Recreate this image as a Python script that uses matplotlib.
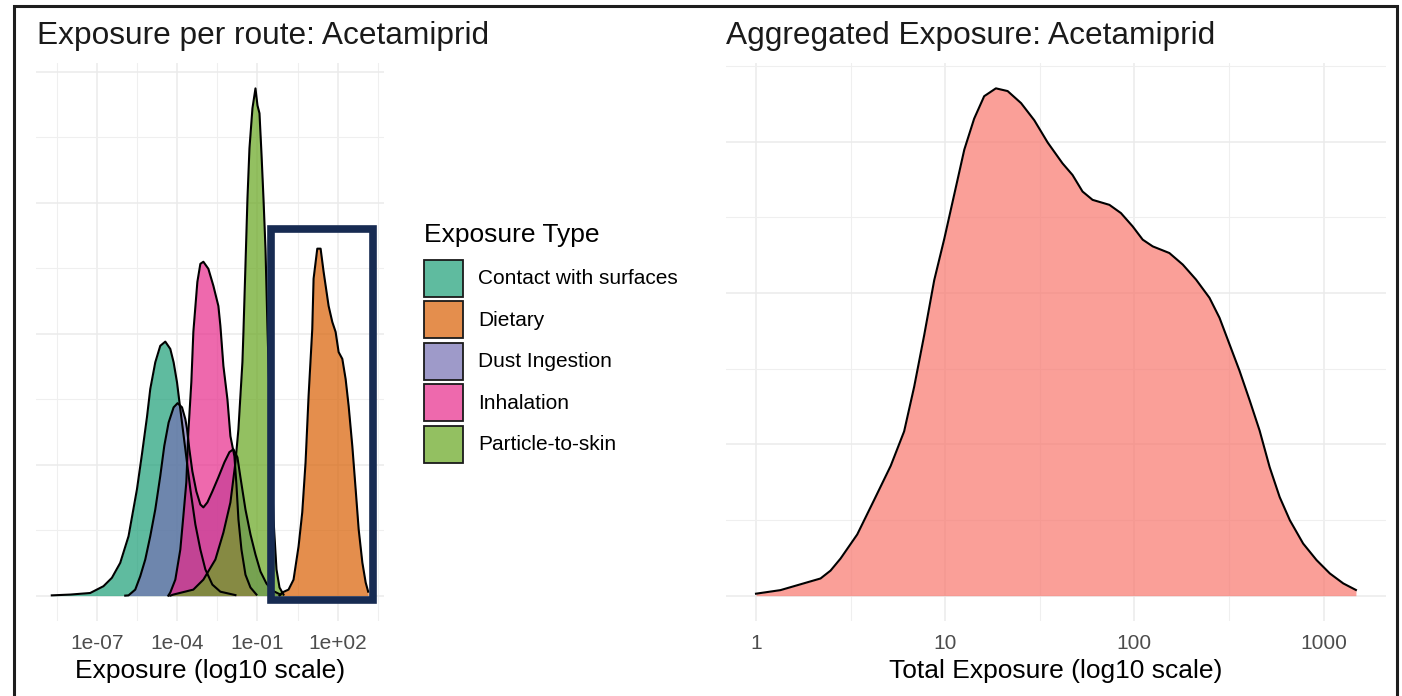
import numpy as np
import matplotlib
matplotlib.use("Agg")
import matplotlib.pyplot as plt
from matplotlib.patches import Patch, Rectangle

plt.rcParams['font.family'] = ['Liberation Sans', 'DejaVu Sans']

# ---- data: log10(exposure) and density ----
route_names = ["Contact with surfaces", "Dietary", "Dust Ingestion",
               "Inhalation", "Particle-to-skin"]
route_colors = ["#1B9E77", "#D95F02", "#7570B3", "#E7298A", "#66A61E"]

contact_log = [-8.699, -8.012, -7.262, -6.764, -6.449, -6.138, -5.826, -5.511,
               -5.324, -5.136, -5.013, -4.825, -4.638, -4.450, -4.263, -4.139,
               -4.011, -3.888, -3.700, -3.513, -3.325, -3.138, -2.950, -2.688,
               -2.388, -1.825]
contact_dens = [0.001, 0.004, 0.010, 0.036, 0.068, 0.125, 0.227, 0.406,
                0.540, 0.682, 0.789, 0.891, 0.954, 0.970, 0.942, 0.891,
                0.814, 0.712, 0.559, 0.406, 0.272, 0.176, 0.100, 0.042,
                0.015, 0.002]

dietary_log = [-0.175, -0.074, 0.163, 0.350, 0.538, 0.676, 0.800, 0.913,
               1.051, 1.100, 1.239, 1.363, 1.475, 1.663, 1.801, 1.925,
               2.038, 2.176, 2.300, 2.413, 2.551, 2.675, 2.788, 2.926,
               3.050, 3.144]
dietary_dens = [0.000, 0.012, 0.023, 0.061, 0.188, 0.318, 0.509, 0.762,
                1.018, 1.210, 1.325, 1.325, 1.237, 1.106, 1.045, 1.007,
                0.930, 0.904, 0.827, 0.724, 0.570, 0.406, 0.253, 0.126,
                0.050, 0.015]

dust_log = [-5.950, -5.826, -5.575, -5.388, -5.200, -5.013, -4.825, -4.638,
            -4.488, -4.326, -4.139, -3.989, -3.824, -3.700, -3.636, -3.550,
            -3.438, -3.288, -3.138, -3.025, -2.875, -2.688, -2.463, -2.238,
            -2.050, -1.900, -1.750, -1.638, -1.450, -1.263, -1.075, -0.888,
            -0.663, -0.438, -0.138]
dust_dens = [0.000, 0.001, 0.023, 0.074, 0.138, 0.227, 0.329, 0.457,
             0.572, 0.661, 0.719, 0.735, 0.719, 0.674, 0.636, 0.559,
             0.475, 0.398, 0.348, 0.337, 0.356, 0.398, 0.452, 0.509,
             0.548, 0.559, 0.528, 0.452, 0.329, 0.234, 0.157, 0.092,
             0.046, 0.019, 0.004]

inhal_log = [-4.338, -4.263, -4.075, -3.888, -3.775, -3.663, -3.588, -3.475,
             -3.400, -3.250, -3.138, -3.025, -2.838, -2.650, -2.463, -2.388,
             -2.275, -2.125, -2.013, -1.863, -1.788, -1.713, -1.600, -1.450,
             -1.263, -1.038]
inhal_dens = [0.000, 0.012, 0.061, 0.176, 0.303, 0.433, 0.624, 0.816,
              1.007, 1.198, 1.267, 1.275, 1.248, 1.183, 1.106, 1.030,
              0.877, 0.750, 0.609, 0.532, 0.425, 0.291, 0.176, 0.080,
              0.031, 0.004]

skin_log = [-4.263, -4.150, -3.400, -3.025, -2.575, -2.275, -2.013, -1.825,
            -1.713, -1.563, -1.525, -1.450, -1.375, -1.300, -1.188, -1.075,
            -1.000, -0.925, -0.850, -0.775, -0.700, -0.625, -0.513, -0.400,
            -0.288, -0.175, -0.025]
skin_dens = [0.000, 0.004, 0.023, 0.061, 0.138, 0.241, 0.356, 0.509,
             0.636, 0.892, 1.007, 1.260, 1.516, 1.708, 1.861, 1.937,
             1.872, 1.842, 1.688, 1.516, 1.325, 1.018, 0.636, 0.291,
             0.100, 0.031, 0.004]

total_log = [0.000, 0.129, 0.235, 0.341, 0.394, 0.447, 0.535, 0.624, 0.712,
             0.783, 0.836, 0.889, 0.942, 0.995, 1.048, 1.101, 1.153, 1.206,
             1.268, 1.330, 1.401, 1.471, 1.542, 1.620, 1.673, 1.726, 1.779,
             1.868, 1.929, 1.991, 2.044, 2.097, 2.185, 2.256, 2.326, 2.397,
             2.450, 2.503, 2.556, 2.610, 2.662, 2.715, 2.768, 2.822, 2.892,
             2.963, 3.033, 3.104, 3.171]
total_dens = [0.0026, 0.0073, 0.0150, 0.0227, 0.0331, 0.0491, 0.0809, 0.1263,
              0.1716, 0.2172, 0.2761, 0.3443, 0.4170, 0.4715, 0.5305, 0.5896,
              0.6305, 0.6602, 0.6706, 0.6670, 0.6511, 0.6284, 0.5989, 0.5715,
              0.5561, 0.5342, 0.5232, 0.5166, 0.5057, 0.4881, 0.4706, 0.4617,
              0.4529, 0.4376, 0.4178, 0.3937, 0.3673, 0.3322, 0.2971, 0.2577,
              0.2182, 0.1699, 0.1303, 0.0996, 0.0689, 0.0470, 0.0294, 0.0162,
              0.0075]

route_logs = [contact_log, dietary_log, dust_log, inhal_log, skin_log]
route_dens = [contact_dens, dietary_dens, dust_dens, inhal_dens, skin_dens]

left_ticks = [1e-7, 1e-4, 1e-1, 1e2]
left_labels = ["1e-07", "1e-04", "1e-01", "1e+02"]
right_ticks = [1, 10, 100, 1000]
right_labels = ["1", "10", "100", "1000"]

W, H = 1402, 696
fig = plt.figure(figsize=(W / 100, H / 100), dpi=100)


def style_axes(ax):
    for s in ax.spines.values():
        s.set_visible(False)
    ax.set_axisbelow(True)
    ax.grid(which='major', color='#EBEBEB', lw=1.1)
    ax.grid(which='minor', color='#EFEFEF', lw=0.8)
    ax.tick_params(axis='both', which='both', length=0)
    ax.tick_params(axis='y', labelleft=False)
    ax.tick_params(axis='x', labelsize=15, labelcolor='#4D4D4D', pad=9.5)


# left panel: exposure per route
ax1 = fig.add_axes([36 / W, 1 - 621 / H, 348 / W, 558 / H])
for lg, dn, col in zip(route_logs, route_dens, route_colors):
    x = 10 ** np.array(lg)
    ax1.fill_between(x, dn, 0, color=col, alpha=0.7, lw=0)
    ax1.plot(x, dn, color='black', lw=1.5, solid_joinstyle='round')
ax1.set_xscale('log')
ax1.set_xlim(10 ** -9.29, 10 ** 3.736)
ax1.set_ylim(-0.0969, 2.034)
ax1.set_xticks(left_ticks, left_labels)
ax1.set_xticks([10 ** -8.5, 10 ** -5.5, 10 ** -2.5, 10 ** 0.5, 10 ** 3.5], minor=True)
ax1.xaxis.set_minor_formatter(plt.NullFormatter())
ax1.set_yticks([0, 0.5, 1.0, 1.5, 2.0])
ax1.set_yticks([0.25, 0.75, 1.25, 1.75], minor=True)
style_axes(ax1)
ax1.set_xlabel("Exposure (log10 scale)", fontsize=19, va='baseline')
ax1.xaxis.set_label_coords(0.5, (621 - 678) / 558)

# right panel: aggregated exposure
ax2 = fig.add_axes([726 / W, 1 - 621 / H, 660 / W, 558 / H])
xt = 10 ** np.array(total_log)
ax2.fill_between(xt, total_dens, 0, color='#F8766D', alpha=0.7, lw=0)
ax2.plot(xt, total_dens, color='black', lw=1.5, solid_joinstyle='round')
ax2.set_xscale('log')
ax2.set_xlim(10 ** -0.1586, 10 ** 3.330)
ax2.set_ylim(-0.0335, 0.7041)
ax2.set_xticks(right_ticks, right_labels)
ax2.set_xticks([10 ** 0.5, 10 ** 1.5, 10 ** 2.5], minor=True)
ax2.xaxis.set_minor_formatter(plt.NullFormatter())
ax2.set_yticks([0, 0.2, 0.4, 0.6])
ax2.set_yticks([0.1, 0.3, 0.5, 0.7], minor=True)
style_axes(ax2)
ax2.set_xlabel("Total Exposure (log10 scale)", fontsize=19, va='baseline')
ax2.xaxis.set_label_coords(0.5, (621 - 678) / 558)

# titles
fig.text(37 / W, 1 - 44 / H, "Exposure per route: Acetamiprid",
         fontsize=22.8, color='#1A1A1A', va='baseline', ha='left')
fig.text(726 / W, 1 - 44 / H, "Aggregated Exposure: Acetamiprid",
         fontsize=22.8, color='#1A1A1A', va='baseline', ha='left')

# legend
handles = [Patch(facecolor=matplotlib.colors.to_rgba(c, 0.7), edgecolor='#1A1A1A', lw=1.3)
           for c in route_colors]
leg = fig.legend(handles, route_names, title="Exposure Type", loc='upper left',
                 bbox_to_anchor=(424 / W, 1 - 223 / H), frameon=False,
                 fontsize=15, title_fontsize=19, borderpad=0, borderaxespad=0,
                 handlelength=1.872, handleheight=2.356, handletextpad=0.72,
                 labelspacing=0.216, alignment='left')
leg._legend_box.sep = 9  # more room under the title, like ggplot

# highlight box around the dietary peak
fig.patches.append(Rectangle((271 / W, 1 - 600 / H), 102 / W, 371 / H,
                             transform=fig.transFigure, fill=False,
                             edgecolor='#172B52', lw=5.5, joinstyle='miter'))
# outer frame
fig.patches.append(Rectangle((14 / W, -0.05), 1383 / W, 1 - 6 / H + 0.05,
                             transform=fig.transFigure, fill=False,
                             edgecolor='#1E1E1E', lw=2.2))

fig.savefig("out.png", dpi=100)
